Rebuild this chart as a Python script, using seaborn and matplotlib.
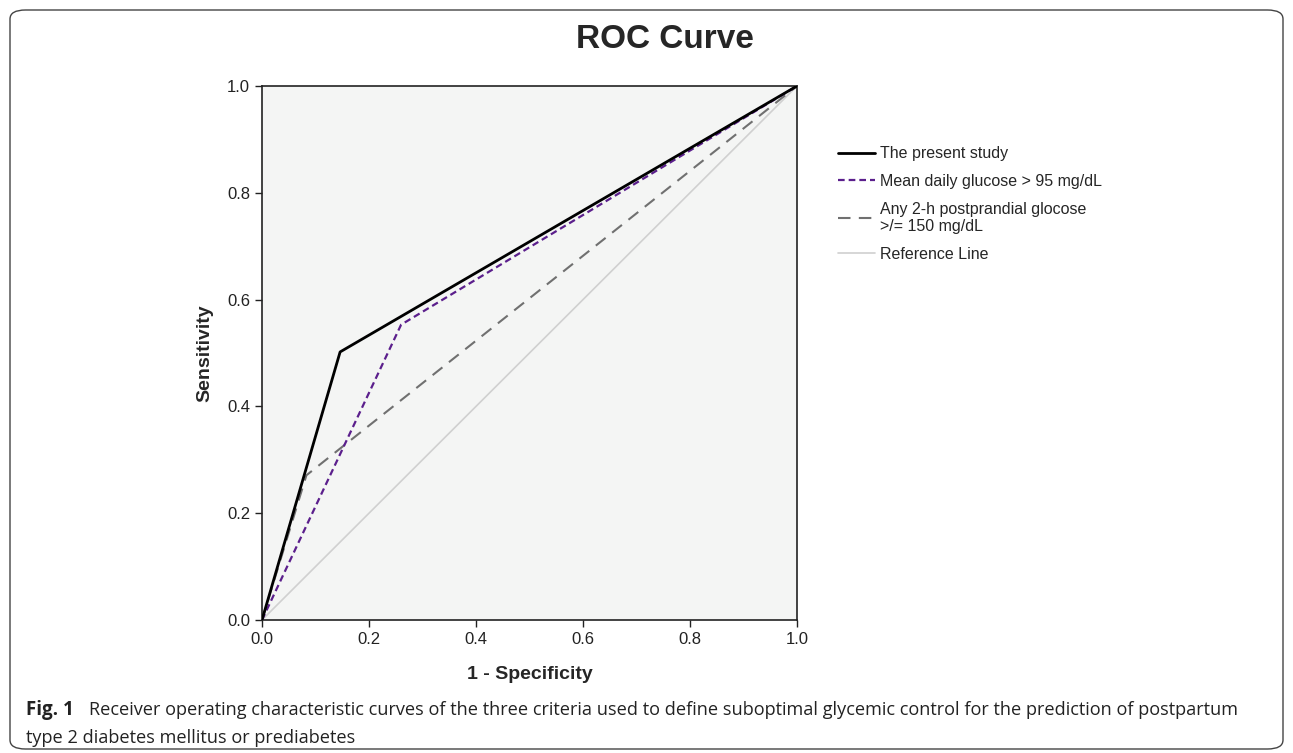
import matplotlib
matplotlib.use("Agg")
import matplotlib.pyplot as plt
from matplotlib.patches import FancyBboxPatch
import seaborn as sns

# ROC points (1 - specificity, sensitivity)
present_fpr = [0.0, 0.146, 1.0]
present_tpr = [0.0, 0.502, 1.0]
glucose_fpr = [0.0, 0.26, 1.0]
glucose_tpr = [0.0, 0.553, 1.0]
postpr_fpr = [0.0, 0.083, 1.0]
postpr_tpr = [0.0, 0.271, 1.0]
ref_fpr = [0.0, 1.0]
ref_tpr = [0.0, 1.0]

ticks = [0.0, 0.2, 0.4, 0.6, 0.8, 1.0]
tick_labels = ["0.0", "0.2", "0.4", "0.6", "0.8", "1.0"]

sns.set_style("ticks")
plt.rcParams["font.family"] = ["Liberation Sans", "DejaVu Sans"]

fig = plt.figure(figsize=(12.93, 7.53), dpi=100)
ax = fig.add_axes([262 / 1293, 1 - 620 / 753, 535 / 1293, 534 / 753])
ax.set_facecolor("#f4f5f4")

sns.lineplot(x=ref_fpr, y=ref_tpr, ax=ax, color="#d0d0d0", lw=1.2,
             label="Reference Line", zorder=1)
sns.lineplot(x=postpr_fpr, y=postpr_tpr, ax=ax, color="#707070", lw=1.5,
             label="Any 2-h postprandial glocose\n>/= 150 mg/dL", zorder=2)
sns.lineplot(x=glucose_fpr, y=glucose_tpr, ax=ax, color="#5b1f8c", lw=1.6,
             label="Mean daily glucose > 95 mg/dL", zorder=3)
sns.lineplot(x=present_fpr, y=present_tpr, ax=ax, color="black", lw=2.0,
             label="The present study", zorder=4)
ax.lines[1].set_dashes([6, 4])
ax.lines[2].set_dashes([3, 1.8])

ax.set_xlim(0, 1)
ax.set_ylim(0, 1)
ax.set_xticks(ticks)
ax.set_xticklabels(tick_labels)
ax.set_yticks(ticks)
ax.set_yticklabels(tick_labels)
ax.tick_params(direction="out", length=5, width=1, labelsize=12, colors="#222222")
for s in ax.spines.values():
    s.set_color("#222222")
    s.set_linewidth(1.2)
ax.set_xlabel("1 - Specificity", fontsize=14, fontweight="bold", labelpad=14)
ax.set_ylabel("Sensitivity", fontsize=14, fontweight="bold", labelpad=10)

handles, labels = ax.get_legend_handles_labels()
order = [3, 2, 1, 0]
ax.legend([handles[i] for i in order], [labels[i] for i in order],
          loc="upper left", bbox_to_anchor=(835 / 1293, 1 - 143 / 753),
          bbox_transform=fig.transFigure, frameon=False, fontsize=11.5,
          handlelength=2.3, handletextpad=0.3, labelspacing=0.8,
          borderaxespad=0, borderpad=0.2)

fig.text(665 / 1293, 1 - 39 / 753, "ROC Curve", ha="center", va="center",
         fontsize=24, fontweight="bold")

cap_font = ["Open Sans", "DejaVu Sans"]
fig.text(26 / 1293, 1 - 710 / 753, "Fig. 1", fontsize=13.5, fontweight="bold",
         family=cap_font, va="center", color="#222222")
fig.text(89 / 1293, 1 - 710 / 753,
         "Receiver operating characteristic curves of the three criteria used to define suboptimal glycemic control for the prediction of postpartum",
         fontsize=13.1, family=cap_font, va="center", color="#222222")
fig.text(26 / 1293, 1 - 738 / 753, "type 2 diabetes mellitus or prediabetes",
         fontsize=13.1, family=cap_font, va="center", color="#222222")

border = FancyBboxPatch((10 / 1293, 4 / 753), 1273 / 1293, 1 - 14 / 753,
                        boxstyle="round,pad=0,rounding_size=0.012",
                        transform=fig.transFigure, fill=False,
                        edgecolor="#444444", lw=1.0)
fig.patches.append(border)

fig.savefig("out.png", dpi=100)
